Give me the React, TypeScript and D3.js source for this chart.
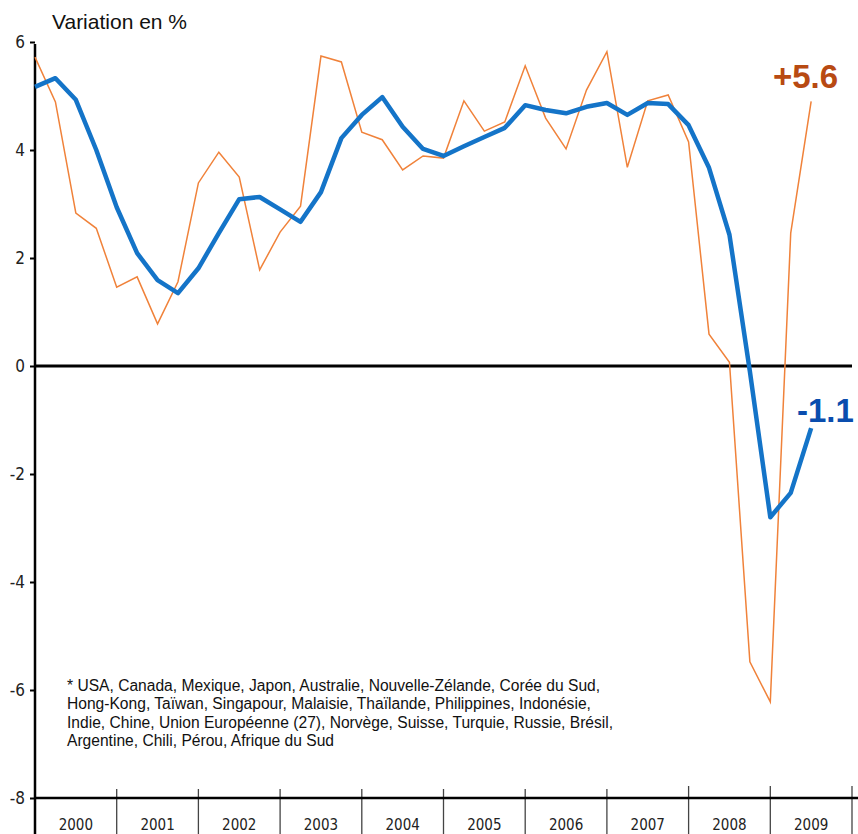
import React, { useRef, useEffect } from 'react';
import * as d3 from 'd3';

// quarterly growth, 2000 Q1 .. 2009 Q3
const years = ['2000', '2001', '2002', '2003', '2004', '2005', '2006', '2007', '2008', '2009'];
const yTicks = [6, 4, 2, 0, -2, -4, -6, -8];

// thick blue line (year on year)
const tendance = [
  5.17, 5.33, 4.93, 4.0, 2.94, 2.09, 1.59, 1.35,
  1.81, 2.46, 3.09, 3.13, 2.9, 2.67, 3.22, 4.22,
  4.65, 4.98, 4.43, 4.02, 3.89, 4.07, 4.24, 4.41,
  4.83, 4.74, 4.68, 4.8, 4.87, 4.65, 4.87, 4.85,
  4.46, 3.67, 2.43, -0.1, -2.8, -2.35, -1.15,
];

// thin orange line (annualised quarter on quarter)
const trimestriel = [
  5.72, 4.89, 2.83, 2.55, 1.46, 1.65, 0.78, 1.56,
  3.39, 3.96, 3.5, 1.78, 2.48, 2.96, 5.74, 5.63,
  4.33, 4.19, 3.63, 3.89, 3.85, 4.91, 4.35, 4.52,
  5.56, 4.59, 4.02, 5.11, 5.82, 3.68, 4.91, 5.02,
  4.15, 0.59, 0.07, -5.48, -6.22, 2.46, 4.9,
];

const labelTendance = '-1.1';
const labelTrimestriel = '+5.6';
const title = 'Variation en %';
const footnote = [
  '* USA, Canada, Mexique, Japon, Australie, Nouvelle-Zélande, Corée du Sud,',
  'Hong-Kong, Taïwan, Singapour, Malaisie, Thaïlande, Philippines, Indonésie,',
  'Indie, Chine, Union Européenne (27), Norvège, Suisse, Turquie, Russie, Brésil,',
  'Argentine, Chili, Pérou, Afrique du Sud',
];

const W = 858;
const H = 834;
const narrow = "'Liberation Sans Narrow', 'DejaVu Sans Condensed', sans-serif";
const sans = "'Liberation Sans', Arial, sans-serif";

const App = () => {
  const svgRef = useRef<SVGSVGElement>(null);

  useEffect(() => {
    const svg = d3.select(svgRef.current);
    svg.selectAll('*').remove();

    const x = d3.scaleLinear().domain([0, years.length * 4]).range([35, 852]);
    const y = d3.scaleLinear().domain([-8, 6]).range([798, 42]);

    // title
    svg.append('text')
      .attr('x', 52).attr('y', 29)
      .attr('font-family', sans).attr('font-size', 21)
      .attr('fill', '#111')
      .text(title);

    // year separators + labels
    svg.selectAll('.sep')
      .data(d3.range(years.length + 1))
      .join('line')
      .attr('class', 'sep')
      .attr('x1', d => x(d * 4)).attr('x2', d => x(d * 4))
      .attr('y1', d => (d >= 8 ? 786 : 789)).attr('y2', H)
      .attr('stroke', '#444').attr('stroke-width', 1.3);

    svg.selectAll('.year')
      .data(years)
      .join('text')
      .attr('class', 'year')
      .attr('x', (d, i) => x(i * 4 + 2))
      .attr('y', 830)
      .attr('text-anchor', 'middle')
      .attr('font-family', narrow).attr('font-size', 15)
      .attr('fill', '#222')
      .text(d => d);

    // y axis
    const yAxis = d3.axisLeft(y).tickValues(yTicks).tickSize(5).tickPadding(5).tickFormat(d => String(d));
    const g = svg.append('g').attr('transform', 'translate(35,0)').call(yAxis);
    g.select('.domain').remove();
    g.selectAll('.tick line').attr('stroke', '#000').attr('stroke-width', 2);
    g.selectAll('.tick text')
      .attr('font-family', narrow).attr('font-size', 17)
      .attr('fill', '#222');

    svg.append('line')
      .attr('x1', 35).attr('x2', 35).attr('y1', 44).attr('y2', H)
      .attr('stroke', '#000').attr('stroke-width', 2.5);

    svg.append('line')
      .attr('x1', 35).attr('x2', W).attr('y1', y(-8)).attr('y2', y(-8))
      .attr('stroke', '#000').attr('stroke-width', 2.5);

    // zero line
    svg.append('line')
      .attr('x1', 35).attr('x2', 852).attr('y1', y(0)).attr('y2', y(0))
      .attr('stroke', '#000').attr('stroke-width', 3);

    const line = d3.line<number>().x((d, i) => x(i)).y(d => y(d));

    svg.append('path')
      .attr('d', line(trimestriel))
      .attr('fill', 'none').attr('stroke', '#F0823A').attr('stroke-width', 1.5)
      .attr('stroke-linejoin', 'miter');

    svg.append('path')
      .attr('d', line(tendance))
      .attr('fill', 'none').attr('stroke', '#1474C8').attr('stroke-width', 4.5)
      .attr('stroke-linejoin', 'round');

    // end labels
    svg.append('text')
      .attr('x', 773).attr('y', 88)
      .attr('font-family', sans).attr('font-size', 33).attr('font-weight', 'bold')
      .attr('fill', '#B84A12')
      .text(labelTrimestriel);

    svg.append('text')
      .attr('x', 797).attr('y', 422)
      .attr('font-family', sans).attr('font-size', 33).attr('font-weight', 'bold')
      .attr('fill', '#0A4DAE')
      .text(labelTendance);

    // footnote
    svg.selectAll('.note')
      .data(footnote)
      .join('text')
      .attr('class', 'note')
      .attr('x', 67)
      .attr('y', (d, i) => 691 + i * 18.4)
      .attr('font-family', sans).attr('font-size', 15.6)
      .attr('fill', '#111')
      .text(d => d);
  }, []);

  return (
    <svg
      ref={svgRef}
      width={W}
      height={H}
      style={{ position: 'absolute', left: 0, top: 0, background: '#fff' }}
    />
  );
};

export default App;
